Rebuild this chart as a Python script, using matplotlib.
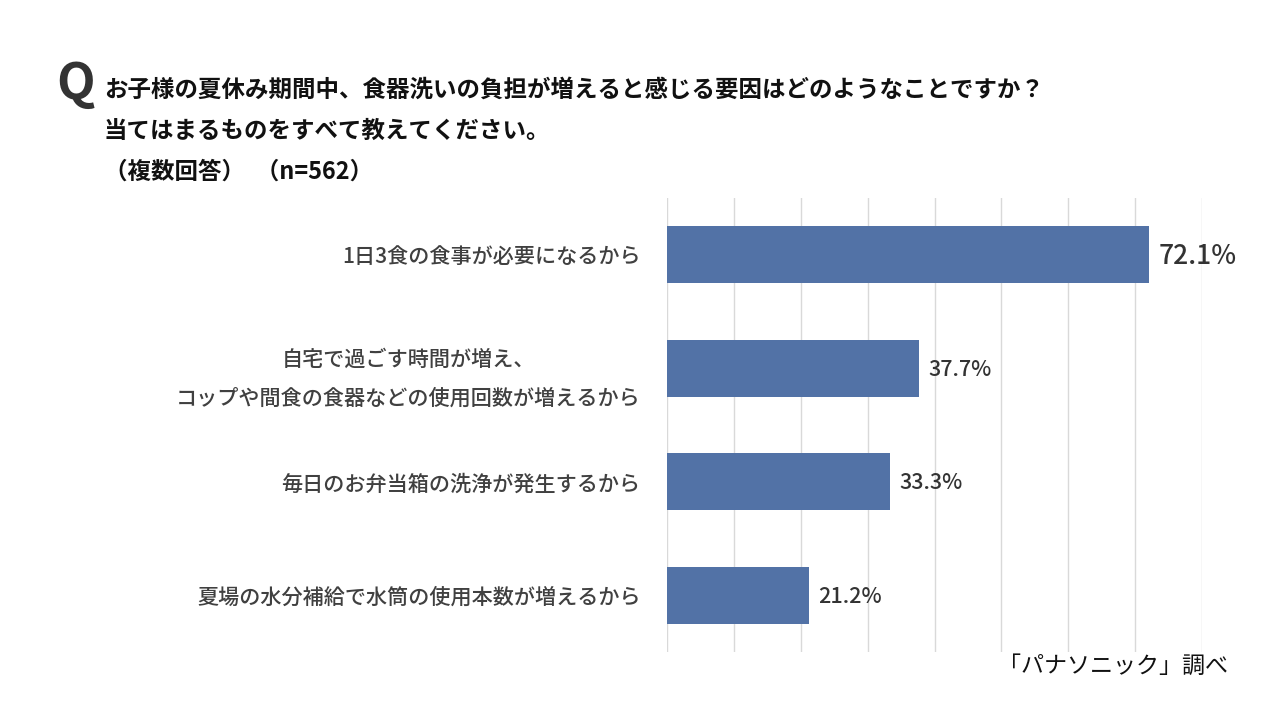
import matplotlib.pyplot as plt

plt.rcParams['font.family'] = ['Noto Sans CJK JP', 'DejaVu Sans']

categories = [
    "1日3食の食事が必要になるから",
    "自宅で過ごす時間が増え、\nコップや間食の食器などの使用回数が増えるから",
    "毎日のお弁当箱の洗浄が発生するから",
    "夏場の水分補給で水筒の使用本数が増えるから",
]
values = [72.1, 37.7, 33.3, 21.2]

title_lines = [
    "お子様の夏休み期間中、食器洗いの負担が増えると感じる要因はどのようなことですか？",
    "当てはまるものをすべて教えてください。",
    "（複数回答）  （n=562）",
]
source = "「パナソニック」調べ"

bar_color = "#5272a6"
text_color = "#404040"

fig = plt.figure(figsize=(12.8, 7.2), dpi=100)
ax = fig.add_axes([0.5211, 0.0944, 0.418, 0.6306])

y = list(range(len(categories)))
ax.barh(y, values, height=0.5, color=bar_color, zorder=3)
ax.set_xlim(0, 80)
ax.set_ylim(3.5, -0.5)
ax.set_xticks(range(0, 81, 10))
ax.tick_params(axis='x', length=0, labelbottom=False)
ax.grid(axis='x', color='#d9d9d9', linewidth=1, zorder=0)
for s in ax.spines.values():
    s.set_visible(False)

ax.set_yticks(y)
ax.set_yticklabels(categories, fontsize=15.2, color=text_color, fontweight='medium',
                   linespacing=2.0, multialignment='center')
ax.tick_params(axis='y', length=0, pad=19)

for i, v in enumerate(values):
    fs = 19 if i == 0 else 15.5
    ax.annotate(f"{v:.1f}%", (v, i), xytext=(7, -1), textcoords='offset points',
                ha='left', va='center', fontsize=fs, color='#333333',
                fontweight='medium')

fig.text(56 / 1280, 1 - 84 / 720, "Q", fontsize=36, fontweight='bold',
         color='#333333', ha='left', va='center')
fig.text(104 / 1280, 1 - 90 / 720, title_lines[0], fontsize=16.9, fontweight='bold',
         color='#111111', ha='left', va='center')
fig.text(104 / 1280, 1 - 131 / 720, title_lines[1], fontsize=16.9, fontweight='bold',
         color='#111111', ha='left', va='center')
fig.text(104 / 1280, 1 - 172 / 720, title_lines[2], fontsize=16.9,
         fontweight='bold', color='#111111', ha='left', va='center')

fig.text(1228 / 1280, 1 - 666 / 720, source, fontsize=16.6, color='#111111',
         ha='right', va='center')

fig.savefig("out.png", dpi=100)
